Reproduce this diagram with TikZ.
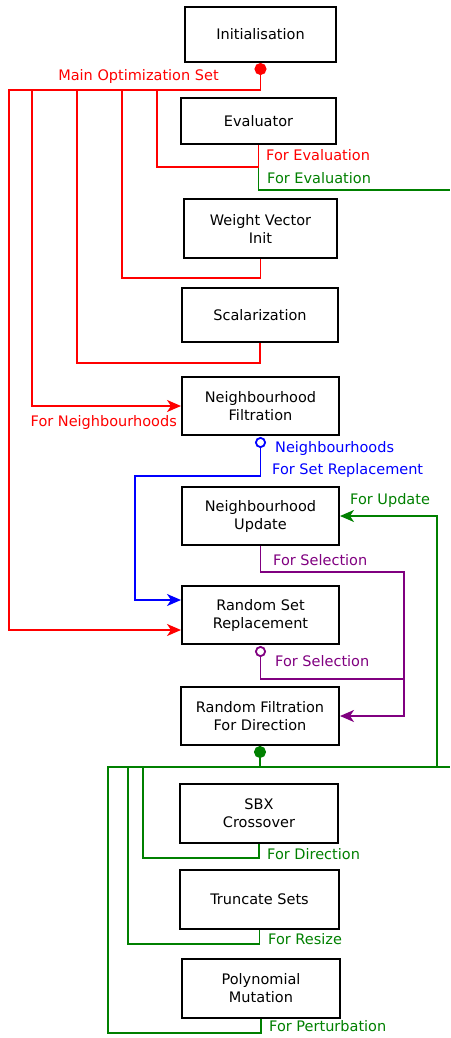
\documentclass[tikz,border=0pt]{standalone}
\usepackage{fontspec}
\setmainfont{DejaVu Sans}
\usetikzlibrary{calc,arrows.meta}
\definecolor{setgreen}{HTML}{008000}
\definecolor{setpurple}{HTML}{800080}
\tikzset{
	block/.style={draw, line width=2pt, minimum width=156pt, minimum height=58pt, align=center, inner sep=2pt},
	wire/.style={line width=1.8pt},
	tag/.style={font=\fontsize{14.5}{17}\selectfont, inner sep=0pt},
	tip/.style={-{Stealth[length=14pt,width=12pt,inset=4pt]}}
}
\begin{document}
\begin{tikzpicture}[x=1pt, y=-1pt, font=\fontsize{14.5}{18}\selectfont]
		%%%%% START %%%%%
		\useasboundingbox (0, 0) rectangle (450, 1038);
		
		\node[block, minimum width=151pt, minimum height=55pt] (init) at (260.5, 34.5) {Initialisation};
		\node[block, minimum width=155pt, minimum height=46pt] (eval) at (258.5, 121) {Evaluator};
		\node[block, minimum width=153pt, minimum height=59pt] (weight) at (260.5, 228.5) {Weight Vector\\Init};
		\node[block, minimum height=54pt] (scal) at (260, 315) {Scalarization};
		\node[block, minimum width=157pt] (nbfilt) at (260.5, 406) {Neighbourhood\\Filtration};
		\node[block, minimum width=157pt] (nbupd) at (260.5, 516) {Neighbourhood\\Update};
		\node[block, minimum width=157pt] (randset) at (260.5, 615) {Random Set\\Replacement};
		\node[block, minimum width=158pt] (randfilt) at (260, 716) {Random Filtration\\For Direction};
		\node[block, minimum width=158pt, minimum height=59pt] (sbx) at (259, 813.5) {SBX\\Crossover};
		\node[block, minimum width=159pt, minimum height=59pt] (trunc) at (259.5, 899.5) {Truncate Sets};
		\node[block, minimum width=158pt, minimum height=59pt] (poly) at (261, 988.5) {Polynomial\\Mutation};
		
		\coordinate (redbus) at (9, 90);
		\coordinate (greenbus) at (108, 767);
		\coordinate (evalout) at (450, 190);
		\coordinate (greenout) at (450, 767);
		
		% green out of the evaluator
		\draw[wire, setgreen] (eval.south) |- (evalout);
		
		% main optimization set
		\draw[wire, red, {Circle[length=12pt]}-{Stealth[length=14pt,width=12pt,inset=4pt]}] (init.south) |- (redbus) |- ($(randset.west)+(0, 15)$);
		\draw[wire, red, tip] (32, 90) |- (nbfilt.west);
		\draw[wire, red] (77, 90) -- (77, 363) -| (scal.south);
		\draw[wire, red] (122, 90) -- (122, 278) -| (weight.south);
		\draw[wire, red] (157, 90) -- (157, 167) -| (eval.south);
		
		\node[tag, red] at (138.5, 77) {Main Optimization Set};
		\node[tag, red, anchor=west] at (266, 155) {For Evaluation};
		\node[tag, setgreen, anchor=west] at (267, 178) {For Evaluation};
		\node[tag, red, anchor=east] at (177, 422) {For Neighbourhoods};
		
		% neighbourhoods
		\draw[wire, blue, {Circle[open,length=11pt,sep=1pt]}-{Stealth[length=14pt,width=12pt,inset=4pt]}] (nbfilt.south) |- (135, 476) |- ($(randset.west)+(0, -15)$);
		\node[tag, blue, anchor=west] at (275, 448) {Neighbourhoods};
		\node[tag, blue, anchor=west] at (272, 470) {For Set Replacement};
		
		% selection
		\draw[wire, setpurple, tip] (nbupd.south) |- (404, 572) |- (randfilt.east);
		\draw[wire, setpurple, {Circle[open,length=11pt,sep=1pt]}-] (randset.south) |- (404, 679);
		\node[tag, setpurple, anchor=west] at (273, 560) {For Selection};
		\node[tag, setpurple, anchor=west] at (275, 661) {For Selection};
		
		% offspring
		\draw[wire, setgreen, {Circle[length=12pt]}-] (randfilt.south) |- (greenbus) -- (108, 1033) -| (poly.south);
		\draw[wire, setgreen] (greenbus) -- (greenout);
		\draw[wire, setgreen, tip] (437, 767) |- (nbupd.east);
		\draw[wire, setgreen] (143, 767) -- (143, 858) -| (sbx.south);
		\draw[wire, setgreen] (128, 767) -- (128, 944) -| (trunc.south);
		
		\node[tag, setgreen, anchor=west] at (350, 500) {For Update};
		\node[tag, setgreen, anchor=west] at (267, 854) {For Direction};
		\node[tag, setgreen, anchor=west] at (268, 939) {For Resize};
		\node[tag, setgreen, anchor=west] at (269, 1026.5) {For Perturbation};
		
		%%%%% END %%%%%
	\end{tikzpicture}
\end{document}
